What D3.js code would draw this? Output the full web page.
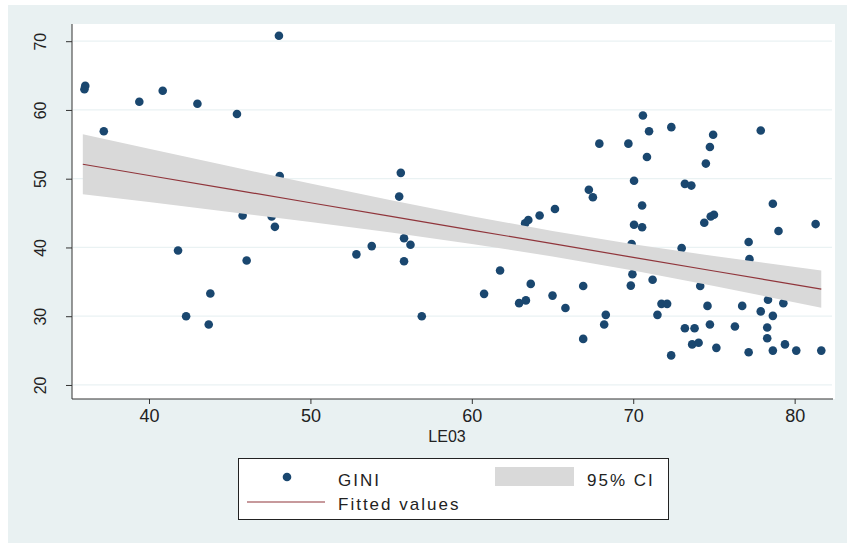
<!DOCTYPE html>
<html>
<head>
<meta charset="utf-8">
<script src="https://cdn.jsdelivr.net/npm/d3@7"></script>
<style>
  body { margin: 0; background: #fff; }
  text { font-family: "Liberation Sans", Arial, sans-serif; fill: #222; }
</style>
</head>
<body>
<div id="chart"></div>
<script>
// scatter values
const le03 = [36.0, 36.05, 37.2, 39.4, 40.85, 43.0, 45.45, 48.05, 41.8, 43.8, 42.3, 43.7,
  45.8, 46.05, 47.6, 47.8, 48.1, 52.85, 53.8, 55.6, 55.5, 55.8, 56.2, 55.8, 56.9,
  60.76, 61.75, 62.93, 63.35, 63.65, 65.0, 65.8, 66.9, 66.9, 68.3, 68.2, 63.3, 63.5,
  64.2, 65.15, 67.25, 67.5, 67.9, 69.7, 70.05, 70.05, 69.95, 69.85, 69.9, 70.6, 70.98,
  72.36, 70.85, 74.95, 74.75, 74.5, 77.9, 73.2, 73.6, 70.55, 78.65, 70.55, 74.4, 74.8,
  75.0, 79.0, 81.3, 77.15, 77.2, 73.0, 71.2, 74.15, 71.75, 72.1, 71.5, 74.6, 76.75,
  77.9, 78.65, 78.35, 79.3, 73.2, 73.8, 74.75, 76.3, 78.3, 78.3, 73.65, 74.05, 75.15,
  72.35, 77.15, 78.65, 79.4, 80.1, 81.65];
const gini = [63.0, 63.5, 56.9, 61.2, 62.8, 60.9, 59.4, 70.8, 39.55, 33.3, 30.0, 28.8,
  44.65, 38.1, 44.5, 43.0, 50.4, 39.0, 40.2, 50.85, 47.4, 41.35, 40.4, 38.0, 30.0,
  33.25, 36.65, 31.9, 32.3, 34.7, 33.0, 31.2, 26.7, 34.4, 30.2, 28.8, 43.5, 44.0,
  44.65, 45.6, 48.4, 47.3, 55.1, 55.1, 49.7, 43.3, 36.1, 34.45, 40.5, 59.2, 56.9,
  57.5, 53.15, 56.4, 54.6, 52.2, 57.0, 49.25, 49.0, 46.1, 46.35, 42.95, 43.6, 44.5,
  44.75, 42.4, 43.4, 40.8, 38.3, 39.9, 35.3, 34.4, 31.8, 31.8, 30.2, 31.5, 31.5,
  30.7, 30.05, 32.4, 31.9, 28.25, 28.25, 28.8, 28.5, 28.35, 26.8, 25.9, 26.15, 25.4,
  24.3, 24.75, 25.0, 25.9, 25.0, 25.0];

// fitted line and 95% CI
const fitX   = [35.9, 40, 45, 50, 55, 60, 65, 70, 75, 81.65];
const fitY   = [52.10, 50.47, 48.49, 46.50, 44.52, 42.53, 40.55, 38.56, 36.58, 33.94];
const ciHigh = [56.45, 54.34, 51.81, 49.30, 46.88, 44.55, 42.41, 40.47, 38.75, 36.66];
const ciLow  = [47.75, 46.60, 45.17, 43.70, 42.16, 40.51, 38.69, 36.65, 34.41, 31.22];

const xTicks = [40, 50, 60, 70, 80];
const yTicks = [20, 30, 40, 50, 60, 70];
const legendLabels = ["GINI", "Fitted values", "95% CI"];

const W = 847, H = 543;
const pLeft = 72, pRight = 835, pTop = 24, pBottom = 399;

const svg = d3.select("#chart").append("svg")
  .attr("width", W).attr("height", H);

// graph region
svg.append("rect").attr("x", 8).attr("y", 5).attr("width", W - 8).attr("height", H - 5)
  .attr("fill", "#e9f1f2");
// plot region
svg.append("rect").attr("x", pLeft).attr("y", pTop)
  .attr("width", pRight - pLeft).attr("height", pBottom - pTop).attr("fill", "#fff");

var x = d3.scaleLinear().domain([35.23, 82.5]).range([pLeft, pRight]);
var y = d3.scaleLinear().domain([17.96, 72.5]).range([pBottom, pTop]);

// grid
svg.append("g").selectAll("line").data(yTicks).enter().append("line")
  .attr("x1", pLeft + 1).attr("x2", pRight - 3)
  .attr("y1", d => y(d)).attr("y2", d => y(d))
  .attr("stroke", "#eaf2f3").attr("stroke-width", 1.2);

// points
svg.append("g").selectAll("circle").data(le03).enter().append("circle")
  .attr("cx", d => x(d))
  .attr("cy", (d, i) => y(gini[i]))
  .attr("r", 4.3)
  .attr("fill", "#1a476f");

// CI band (drawn over the points, as in the original)
const band = fitX.map((v, i) => ({x: v, lo: ciLow[i], hi: ciHigh[i]}));
svg.append("path").datum(band)
  .attr("d", d3.area().x(d => x(d.x)).y0(d => y(d.lo)).y1(d => y(d.hi)))
  .attr("fill", "#d9d9d9");

// fitted line
svg.append("path").datum(fitX.map((v, i) => [v, fitY[i]]))
  .attr("d", d3.line().x(d => x(d[0])).y(d => y(d[1])))
  .attr("fill", "none").attr("stroke", "#90353b").attr("stroke-width", 1.2);

// axes
var xAxis = svg.append("g").attr("transform", "translate(0," + pBottom + ")")
  .call(d3.axisBottom(x).tickValues(xTicks).tickSize(5).tickPadding(5).tickSizeOuter(0));
xAxis.select(".domain").attr("stroke", "#333").attr("d", "M" + pLeft + ",0H" + (pRight - 2));
xAxis.selectAll(".tick line").attr("stroke", "#333");
xAxis.selectAll("text").style("font-size", "18px").attr("fill", "#222");

var yAxis = svg.append("g").attr("transform", "translate(" + pLeft + ",0)")
  .call(d3.axisLeft(y).tickValues(yTicks).tickSize(6).tickSizeOuter(0));
yAxis.select(".domain").attr("stroke", "#333").attr("d", "M0," + pTop + "V" + pBottom);
yAxis.selectAll(".tick line").attr("stroke", "#333");
yAxis.selectAll("text").remove();
yAxis.selectAll(".tick").append("text")
  .attr("transform", "translate(-26,0) rotate(-90)")
  .attr("text-anchor", "middle")
  .style("font-size", "16px")
  .text(d => d);

// x title
svg.append("text").attr("x", 447).attr("y", 442).attr("text-anchor", "middle")
  .style("font-size", "16px").text("LE03");

// legend
const lg = svg.append("g");
lg.append("rect").attr("x", 238.5).attr("y", 458.5).attr("width", 430).attr("height", 61)
  .attr("fill", "#fff").attr("stroke", "#222").attr("stroke-width", 1);
lg.append("circle").attr("cx", 287).attr("cy", 477).attr("r", 4.3).attr("fill", "#1a476f");
lg.append("line").attr("x1", 247).attr("x2", 325).attr("y1", 502).attr("y2", 502)
  .attr("stroke", "#90353b").attr("stroke-width", 1.2);
lg.append("rect").attr("x", 495).attr("y", 467).attr("width", 79).attr("height", 19)
  .attr("fill", "#d9d9d9");
lg.append("text").attr("x", 338).attr("y", 486).style("font-size", "17px")
  .style("letter-spacing", "2px").text(legendLabels[0]);
lg.append("text").attr("x", 338).attr("y", 510).style("font-size", "17px")
  .style("letter-spacing", "2px").text(legendLabels[1]);
lg.append("text").attr("x", 587).attr("y", 486).style("font-size", "17px")
  .style("letter-spacing", "2px").text(legendLabels[2]);
</script>
</body>
</html>
